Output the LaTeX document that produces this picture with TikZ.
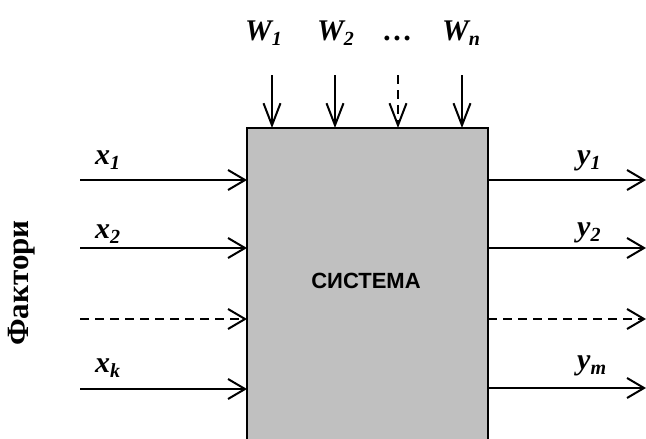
\documentclass[tikz,border=0pt]{standalone}
\usepackage{fontspec}
\setmainfont{Liberation Serif}
\newfontfamily\sysfont{Liberation Sans}
\usetikzlibrary{arrows.meta}
\newcommand\subs[1]{\raisebox{-5pt}{\fontsize{20}{20}\selectfont #1}}
\tikzset{
  lbl/.style={inner sep=0pt, anchor=base west, font=\fontsize{30}{30}\selectfont\bfseries\itshape},
  harrow/.style={line width=2pt, -{Straight Barb[length=17pt,width=20pt,line width=2pt]}},
  varrow/.style={line width=2pt, -{Straight Barb[length=22pt,width=17pt,line width=2pt]}},
  dsh/.style={dash pattern=on 9pt off 6pt}
}
\begin{document}
\begin{tikzpicture}[x=1pt,y=-1pt]
\useasboundingbox (0,0) rectangle (646,439);
% system box
\node[fill={rgb,255:red,192;green,192;blue,192}, inner sep=0pt, minimum width=241pt, minimum height=311pt, anchor=north west] (sys) at (247,128) {};
\draw[line width=2pt] (sys.south west) -- (sys.north west) -- (sys.north east) -- (sys.south east);
\node[font=\sysfont\bfseries\fontsize{22}{22}\selectfont] (systxt) at (366,281) {СИСТЕМА};
% top inputs
\coordinate (w1s) at (272,75);
\coordinate (w2s) at (335,75);
\coordinate (w3s) at (398,75);
\coordinate (w4s) at (462,75);
\draw[varrow] (w1s) -- (w1s |- sys.north);
\draw[varrow] (w2s) -- (w2s |- sys.north);
\draw[varrow,dsh] (w3s) -- (w3s |- sys.north);
\draw[varrow] (w4s) -- (w4s |- sys.north);
\node[lbl] (W1) at (245,41) {W\subs{1}};
\node[lbl] (W2) at (317,41) {W\subs{2}};
\node[lbl] (Wd) at (383,41) {\dots};
\node[lbl] (Wn) at (442,41) {W\subs{n}};
% left inputs
\coordinate (x1s) at (80,180);
\coordinate (x2s) at (80,248);
\coordinate (x3s) at (80,319);
\coordinate (x4s) at (80,389);
\draw[harrow] (x1s) -- (x1s -| sys.west);
\draw[harrow] (x2s) -- (x2s -| sys.west);
\draw[harrow,dsh] (x3s) -- (x3s -| sys.west);
\draw[harrow] (x4s) -- (x4s -| sys.west);
\node[lbl] (x1) at (95,164) {x\subs{1}};
\node[lbl] (x2) at (95,238) {x\subs{2}};
\node[lbl] (xk) at (95,372) {x\subs{k}};
% right outputs
\coordinate (y1e) at (646,180);
\coordinate (y2e) at (646,248);
\coordinate (y3e) at (646,319);
\coordinate (y4e) at (646,388);
\draw[harrow] (y1e -| sys.east) -- (y1e);
\draw[harrow] (y2e -| sys.east) -- (y2e);
\draw[harrow,dsh] (y3e -| sys.east) -- (y3e);
\draw[harrow] (y4e -| sys.east) -- (y4e);
\node[lbl] (y1) at (577,164) {y\subs{1}};
\node[lbl] (y2) at (577,236) {y\subs{2}};
\node[lbl] (ym) at (577,369) {y\subs{m}};
% side label
\node[rotate=90, font=\fontsize{31}{31}\selectfont\bfseries, inner sep=0pt] (fak) at (22,283) {Фактори};
\end{tikzpicture}
\end{document}
